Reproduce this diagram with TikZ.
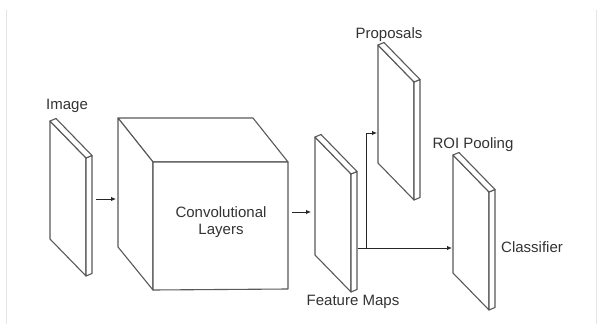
\documentclass[tikz,border=0pt]{standalone}
\usepackage{fontspec}
\setmainfont{Liberation Sans}
\usetikzlibrary{arrows.meta,calc}
\tikzset{
  edge/.style={draw=black!65, line width=1.1pt, line join=round, fill=white},
  lbl/.style={font=\fontsize{15}{16.5}\selectfont, text=black!80, inner sep=0pt},
  conn/.style={draw=black!85, line width=0.9pt, -{Latex[length=5pt,width=4.5pt]}},
  frame/.style={draw=black!10, line width=1pt}
}
% slab: name, x, y (top-left of the side face)
\newcommand{\myslab}[3]{%
  \coordinate (#1-a) at (#2,#3);
  \coordinate (#1-b) at ($(#1-a)+(36,37)$);
  \coordinate (#1-c) at ($(#1-a)+(36,155)$);
  \coordinate (#1-d) at ($(#1-a)+(0,118)$);
  \draw[edge] (#1-a) -- (#1-b) -- (#1-c) -- (#1-d) -- cycle;
  \draw[edge] (#1-b) -- ++(6,-2.5) -- ($(#1-c)+(6,-2.5)$) -- (#1-c) -- cycle;
  \draw[edge] (#1-a) -- ++(6,-2.5) -- ($(#1-b)+(6,-2.5)$) -- (#1-b) -- cycle;
}
\begin{document}
\begin{tikzpicture}[x=1pt,y=-1pt]
\useasboundingbox (0,0) rectangle (603,324);
\fill[white] (0,0) rectangle (603,324);
\draw[frame] (6,10) -- (6,324);
\draw[frame] (596,10) -- (596,324);

% image slab
\myslab{img}{50}{121}
% cube
\coordinate (cf1) at (153,162);
\coordinate (cf2) at (288,162);
\coordinate (cf3) at (288,289);
\coordinate (cf4) at (153,290);
\draw[edge] (cf1) -- ++(-35,-44) -- ++(135,0) -- (cf2) -- cycle;
\draw[edge] (cf1) -- ++(-35,-44) -- ++(0,129) -- (cf4) -- cycle;
\draw[edge] (cf1) -- (cf2) -- (cf3) -- (cf4) -- cycle;
\node[lbl, align=center] (conv) at (221,222) {Convolutional\\Layers};

% other slabs
\myslab{fm}{315}{137}
\myslab{prop}{378}{45}
\myslab{roi}{453}{155}

% labels
\node[lbl] (imglbl) at (67,106) {Image};
\node[lbl] (fmlbl) at (353,302) {Feature Maps};
\node[lbl] (proplbl) at (389,35) {Proposals};
\node[lbl] (roilbl) at (473,145) {ROI Pooling};
\node[lbl, anchor=west] (clslbl) at (501,247) {Classifier};

% connectors
\coordinate (img-out) at (96,199);
\coordinate (cube-in) at (116,199);
\coordinate (cube-out) at (292,212);
\coordinate (fm-in) at (311,212);
\coordinate (fm-out) at (358,248);
\coordinate (split) at (366,248);
\coordinate (roi-in) at (452,248);
\coordinate (prop-in) at (377,133);
\draw[conn] (img-out) -- (cube-in);
\draw[conn] (cube-out) -- (fm-in);
\draw[conn] (fm-out) -- (roi-in);
\draw[conn] (split) |- (prop-in);
\end{tikzpicture}
\end{document}
